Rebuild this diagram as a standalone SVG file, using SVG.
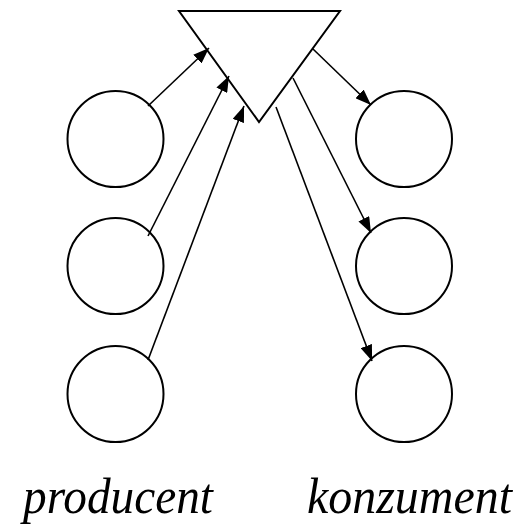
<svg xmlns="http://www.w3.org/2000/svg" width="523" height="527" viewBox="0 0 523 527">
  <style>
    .node { fill: #fff; stroke: #000; stroke-width: 2; }
    .edge { stroke: #000; stroke-width: 1.6; fill: none; marker-end: url(#head); }
  </style>
  <defs>
    <marker id="head" viewBox="0 0 16 12" refX="16" refY="6" markerWidth="16" markerHeight="12" markerUnits="userSpaceOnUse" orient="auto">
      <path d="M0,0 L16,6 L0,12 Z" fill="#000"/>
    </marker>
  </defs>

  <!-- shared buffer -->
  <g id="buffer">
    <polygon class="node" points="179,11 340,11 259,122"/>
  </g>

  <!-- producers -->
  <g id="producer1"><circle class="node" cx="115.5" cy="139" r="48"/></g>
  <g id="producer2"><circle class="node" cx="115.5" cy="266" r="48"/></g>
  <g id="producer3"><circle class="node" cx="115.5" cy="394" r="48"/></g>

  <!-- consumers -->
  <g id="consumer1"><circle class="node" cx="404" cy="139" r="48"/></g>
  <g id="consumer2"><circle class="node" cx="404" cy="266" r="48"/></g>
  <g id="consumer3"><circle class="node" cx="404" cy="394" r="48"/></g>

  <g id="connectors">
    <line class="edge" x1="148" y1="106" x2="209" y2="48"/>
    <line class="edge" x1="148" y1="236" x2="229" y2="76"/>
    <line class="edge" x1="148" y1="360" x2="244" y2="106"/>
    <line class="edge" x1="313" y1="49" x2="371" y2="105"/>
    <line class="edge" x1="293" y1="78" x2="371" y2="233"/>
    <line class="edge" x1="276" y1="107" x2="372" y2="361"/>
  </g>

  <g font-family="'Liberation Serif', 'Times New Roman', serif" font-style="italic" font-size="50" fill="#000">
    <text x="23" y="513" textLength="190" lengthAdjust="spacingAndGlyphs">producent</text>
    <text x="307" y="513" textLength="205" lengthAdjust="spacingAndGlyphs">konzument</text>
  </g>
</svg>
